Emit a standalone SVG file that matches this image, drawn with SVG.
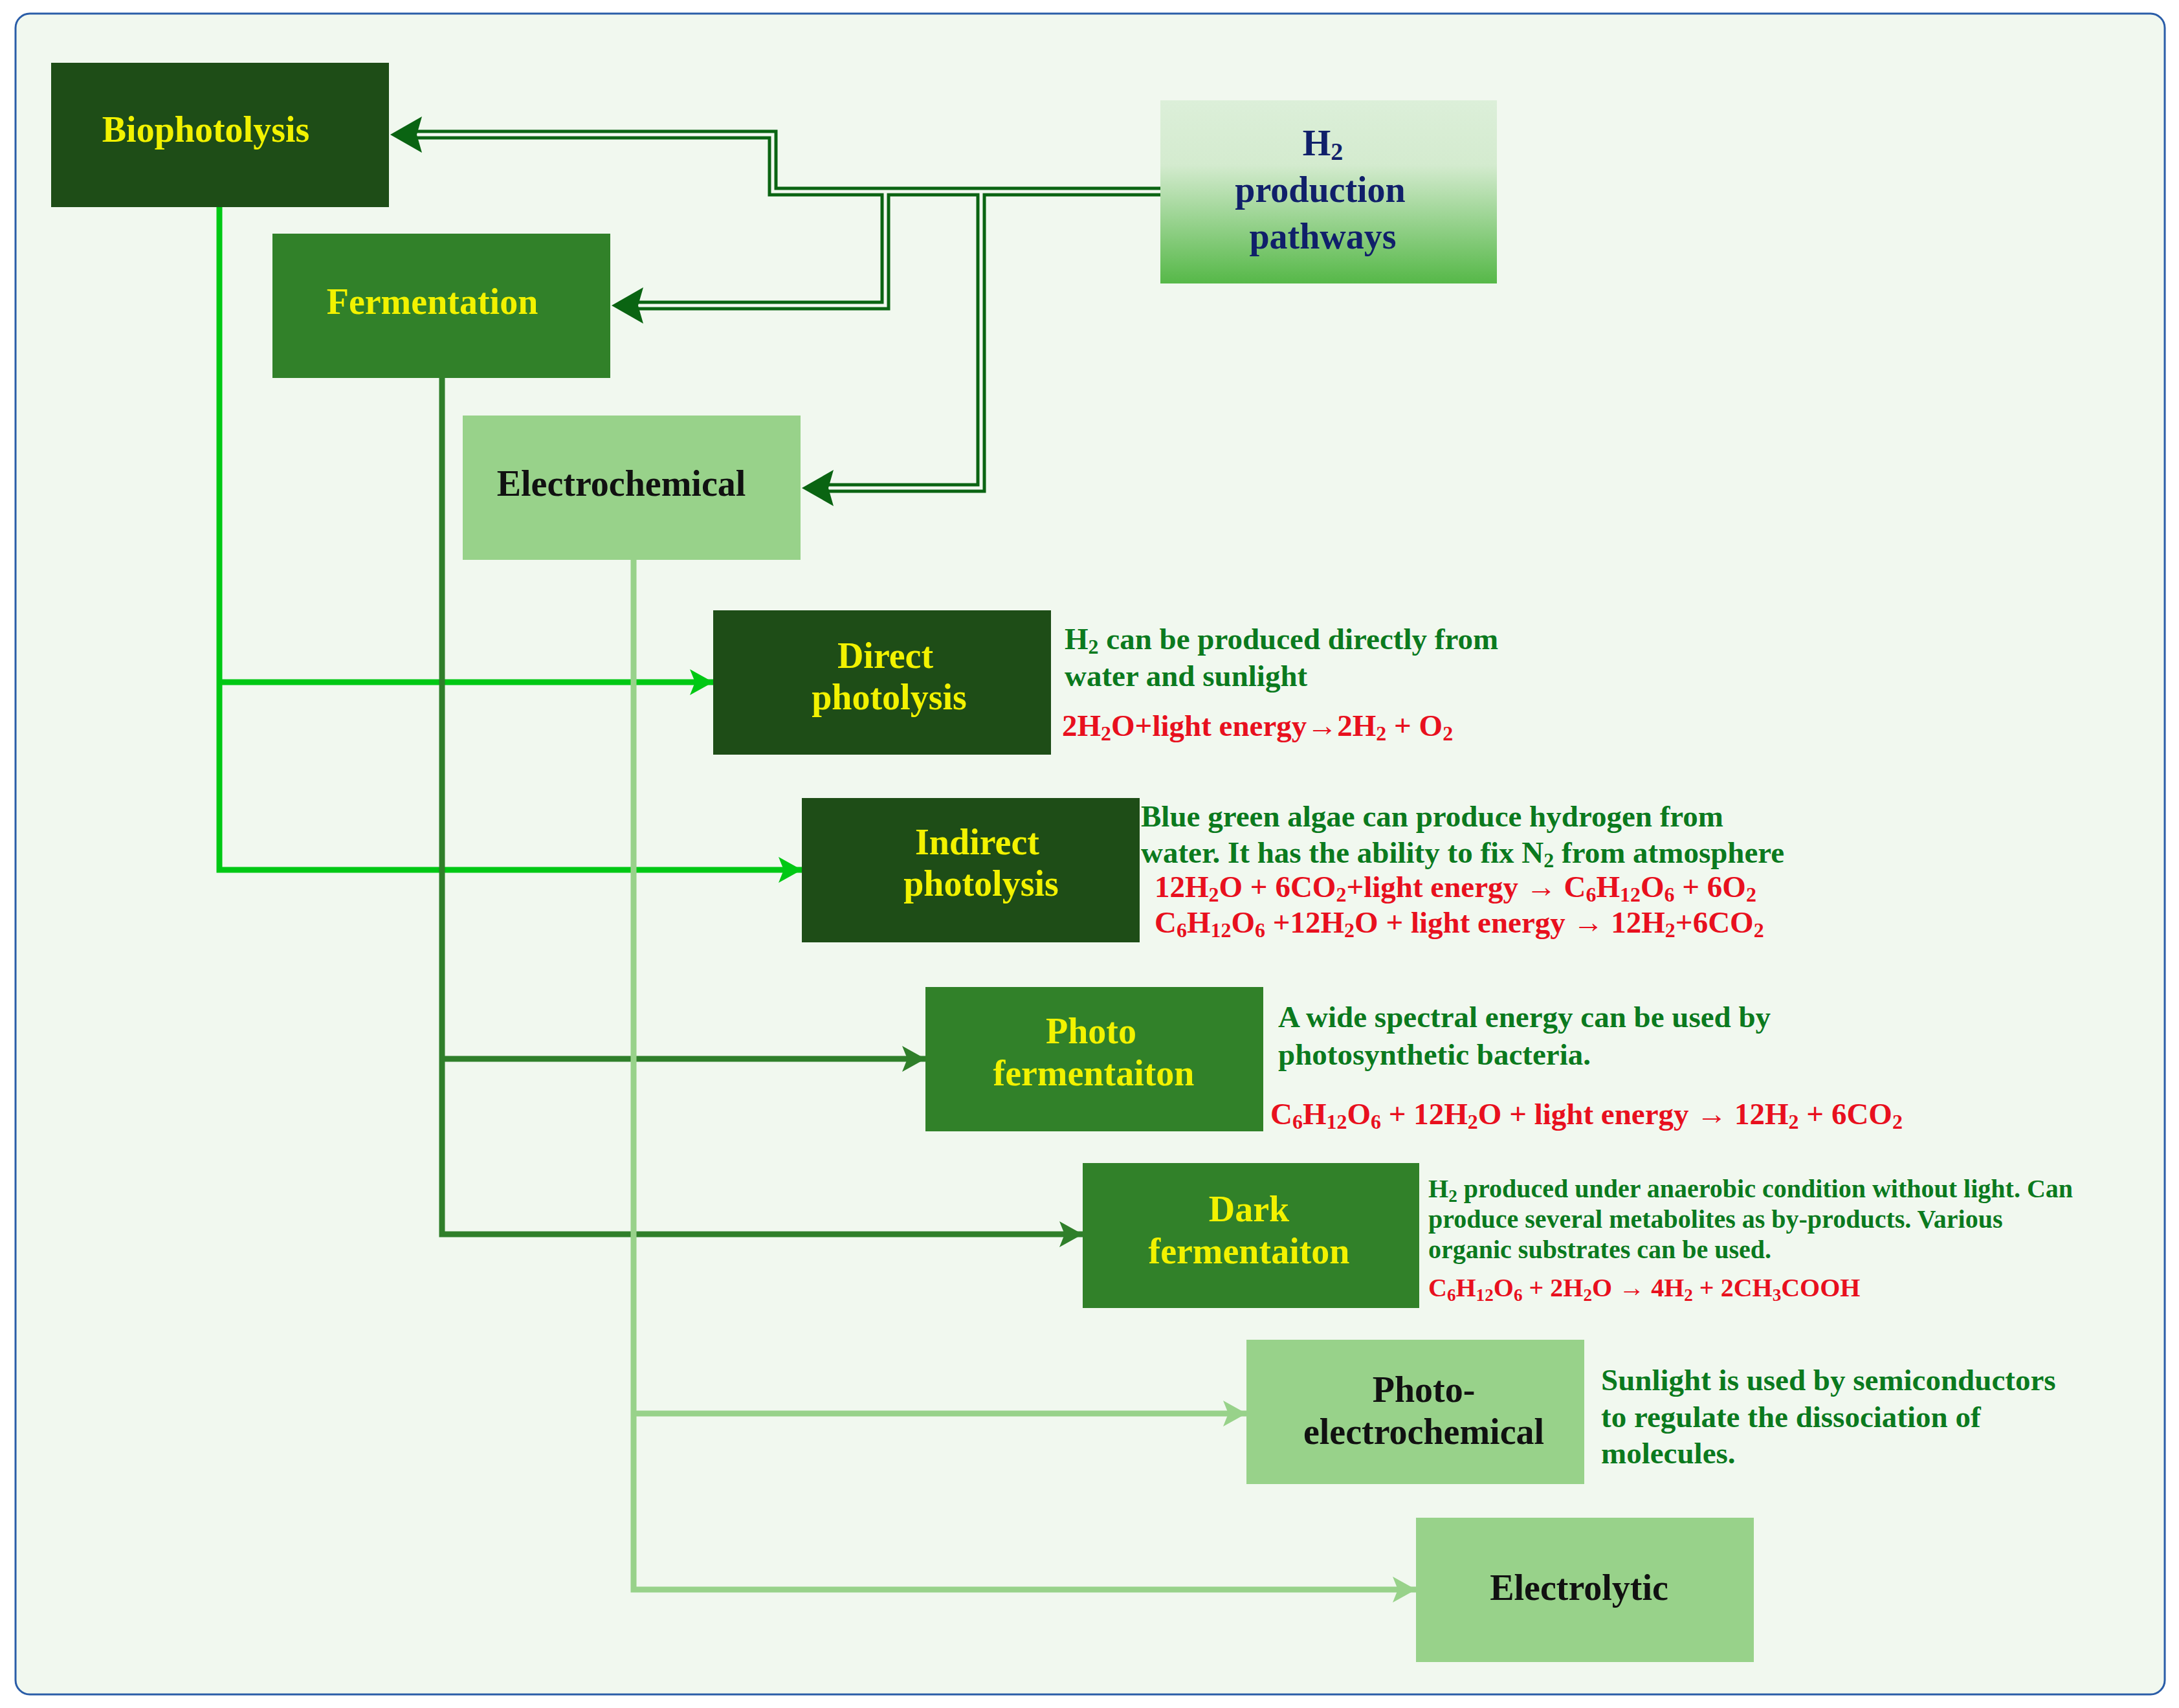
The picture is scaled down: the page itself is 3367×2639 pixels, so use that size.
<svg xmlns="http://www.w3.org/2000/svg" width="3367" height="2639" viewBox="0 0 3367 2639">
<style>
text{font-family:"Liberation Serif","DejaVu Serif",serif;font-weight:bold}
.lbl{font-size:56px;fill:#f2f200;text-anchor:middle}
.blk{fill:#111}
.desc{font-size:47px;fill:#0b7a1e}
.red{font-size:47px;fill:#e8101e}
.sm{font-size:40px}
.s{font-size:68%;baseline-shift:-7px}
.dk{fill:#1e4d17}.md{fill:#318129}.lt{fill:#98d28a}
.c1{stroke:#00c814;stroke-width:9;fill:none}
.c2{stroke:#2f7f2a;stroke-width:9;fill:none}
.c3{stroke:#98d28a;stroke-width:9;fill:none}
.dO{stroke:#0a6412;stroke-width:15;fill:none}
.dI{stroke:#f1f8ef;stroke-width:5;fill:none}
</style>
<defs>
<linearGradient id="g" x1="0" y1="0" x2="0" y2="1">
<stop offset="0" stop-color="#dcefd9"/><stop offset="0.35" stop-color="#d4ebcf"/><stop offset="1" stop-color="#56b848"/>
</linearGradient>
<marker id="a1" markerUnits="userSpaceOnUse" markerWidth="40" markerHeight="44" refX="36" refY="22" orient="auto"><path d="M0,2 L36,22 L0,42 L8,22 Z" fill="#00c814"/></marker>
<marker id="a2" markerUnits="userSpaceOnUse" markerWidth="40" markerHeight="44" refX="36" refY="22" orient="auto"><path d="M0,2 L36,22 L0,42 L8,22 Z" fill="#2f7f2a"/></marker>
<marker id="a3" markerUnits="userSpaceOnUse" markerWidth="40" markerHeight="44" refX="36" refY="22" orient="auto"><path d="M0,2 L36,22 L0,42 L8,22 Z" fill="#98d28a"/></marker>
</defs>
<rect x="0" y="0" width="3367" height="2639" fill="#fff"/>
<rect x="24" y="21" width="3321" height="2597" rx="22" fill="#f1f8ef" stroke="#2a5da8" stroke-width="3"/>

<g id="connectors">
<path class="c1" d="M339,320 V1344 H1239" marker-end="url(#a1)"/>
<path class="c1" d="M339,1054 H1102" marker-end="url(#a1)"/>
<path class="c2" d="M683,584 V1907 H1673" marker-end="url(#a2)"/>
<path class="c2" d="M683,1636 H1430" marker-end="url(#a2)"/>
<path class="c3" d="M979,865 V2456 H2188" marker-end="url(#a3)"/>
<path class="c3" d="M979,2184 H1926" marker-end="url(#a3)"/>
<path class="dO" d="M1793,296 H1194 V208 H640"/>
<path class="dO" d="M1368,296 V472 H980"/>
<path class="dO" d="M1516,296 V754 H1275"/>
<path class="dI" d="M1793,296 H1194 V208 H640"/>
<path class="dI" d="M1368,296 V472 H980"/>
<path class="dI" d="M1516,296 V754 H1275"/>
<polygon points="603,208 652,180 644,208 652,236" fill="#0a6412"/>
<polygon points="945,472 994,444 986,472 994,500" fill="#0a6412"/>
<polygon points="1239,754 1288,726 1280,754 1288,782" fill="#0a6412"/>
</g>

<g id="h2"><rect x="1793" y="155" width="520" height="283" fill="url(#g)"/>
<text x="2044" y="240" class="lbl" style="fill:#10206a">H<tspan class="s">2</tspan></text>
<text x="2040" y="312" class="lbl" style="fill:#10206a">production</text>
<text x="2044" y="384" class="lbl" style="fill:#10206a">pathways</text></g>

<g id="biophotolysis"><rect class="dk" x="79" y="97" width="522" height="223"/><text class="lbl" x="318" y="219">Biophotolysis</text></g>
<g id="fermentation"><rect class="md" x="421" y="361" width="522" height="223"/><text class="lbl" x="668" y="485">Fermentation</text></g>
<g id="electrochemical"><rect class="lt" x="715" y="642" width="522" height="223"/><text class="lbl blk" x="960" y="766">Electrochemical</text></g>

<g id="direct"><rect class="dk" x="1102" y="943" width="522" height="223"/>
<text class="lbl" x="1368" y="1032">Direct</text><text class="lbl" x="1374" y="1096">photolysis</text>
<text class="desc" x="1645" y="1003">H<tspan class="s">2</tspan> can be produced directly from</text>
<text class="desc" x="1645" y="1060">water and sunlight</text>
<text class="red" x="1641" y="1137">2H<tspan class="s">2</tspan>O+light energy→2H<tspan class="s">2</tspan> + O<tspan class="s">2</tspan></text></g>

<g id="indirect"><rect class="dk" x="1239" y="1233" width="522" height="223"/>
<text class="lbl" x="1510" y="1320">Indirect</text><text class="lbl" x="1516" y="1384">photolysis</text>
<text class="desc" x="1763" y="1277">Blue green algae can produce hydrogen from</text>
<text class="desc" x="1763" y="1333">water. It has the ability to fix N<tspan class="s">2</tspan> from atmosphere</text>
<text class="red" x="1784" y="1386">12H<tspan class="s">2</tspan>O + 6CO<tspan class="s">2</tspan>+light energy → C<tspan class="s">6</tspan>H<tspan class="s">12</tspan>O<tspan class="s">6</tspan> + 6O<tspan class="s">2</tspan></text>
<text class="red" x="1784" y="1441">C<tspan class="s">6</tspan>H<tspan class="s">12</tspan>O<tspan class="s">6</tspan> +12H<tspan class="s">2</tspan>O + light energy → 12H<tspan class="s">2</tspan>+6CO<tspan class="s">2</tspan></text></g>

<g id="photoferm"><rect class="md" x="1430" y="1525" width="522" height="223"/>
<text class="lbl" x="1686" y="1612">Photo</text><text class="lbl" x="1690" y="1677">fermentaiton</text>
<text class="desc" x="1975" y="1587">A wide spectral energy can be used by</text>
<text class="desc" x="1975" y="1645">photosynthetic bacteria.</text>
<text class="red" x="1963" y="1737">C<tspan class="s">6</tspan>H<tspan class="s">12</tspan>O<tspan class="s">6</tspan> + 12H<tspan class="s">2</tspan>O + light energy → 12H<tspan class="s">2</tspan> + 6CO<tspan class="s">2</tspan></text></g>

<g id="darkferm"><rect class="md" x="1673" y="1797" width="520" height="224"/>
<text class="lbl" x="1930" y="1887">Dark</text><text class="lbl" x="1930" y="1952">fermentaiton</text>
<text class="desc sm" x="2207" y="1850">H<tspan class="s">2</tspan> produced under anaerobic condition without light. Can</text>
<text class="desc sm" x="2207" y="1897">produce several metabolites as by-products. Various</text>
<text class="desc sm" x="2207" y="1944">organic substrates can be used.</text>
<text class="red sm" x="2207" y="2003">C<tspan class="s">6</tspan>H<tspan class="s">12</tspan>O<tspan class="s">6</tspan> + 2H<tspan class="s">2</tspan>O → 4H<tspan class="s">2</tspan> + 2CH<tspan class="s">3</tspan>COOH</text></g>

<g id="photoelectro"><rect class="lt" x="1926" y="2070" width="522" height="223"/>
<text class="lbl blk" x="2200" y="2166">Photo-</text><text class="lbl blk" x="2200" y="2231">electrochemical</text>
<text class="desc" x="2474" y="2148">Sunlight is used by semiconductors</text>
<text class="desc" x="2474" y="2205">to regulate the dissociation of</text>
<text class="desc" x="2474" y="2261">molecules.</text></g>

<g id="electrolytic"><rect class="lt" x="2188" y="2345" width="522" height="223"/><text class="lbl blk" x="2440" y="2472">Electrolytic</text></g>
</svg>
